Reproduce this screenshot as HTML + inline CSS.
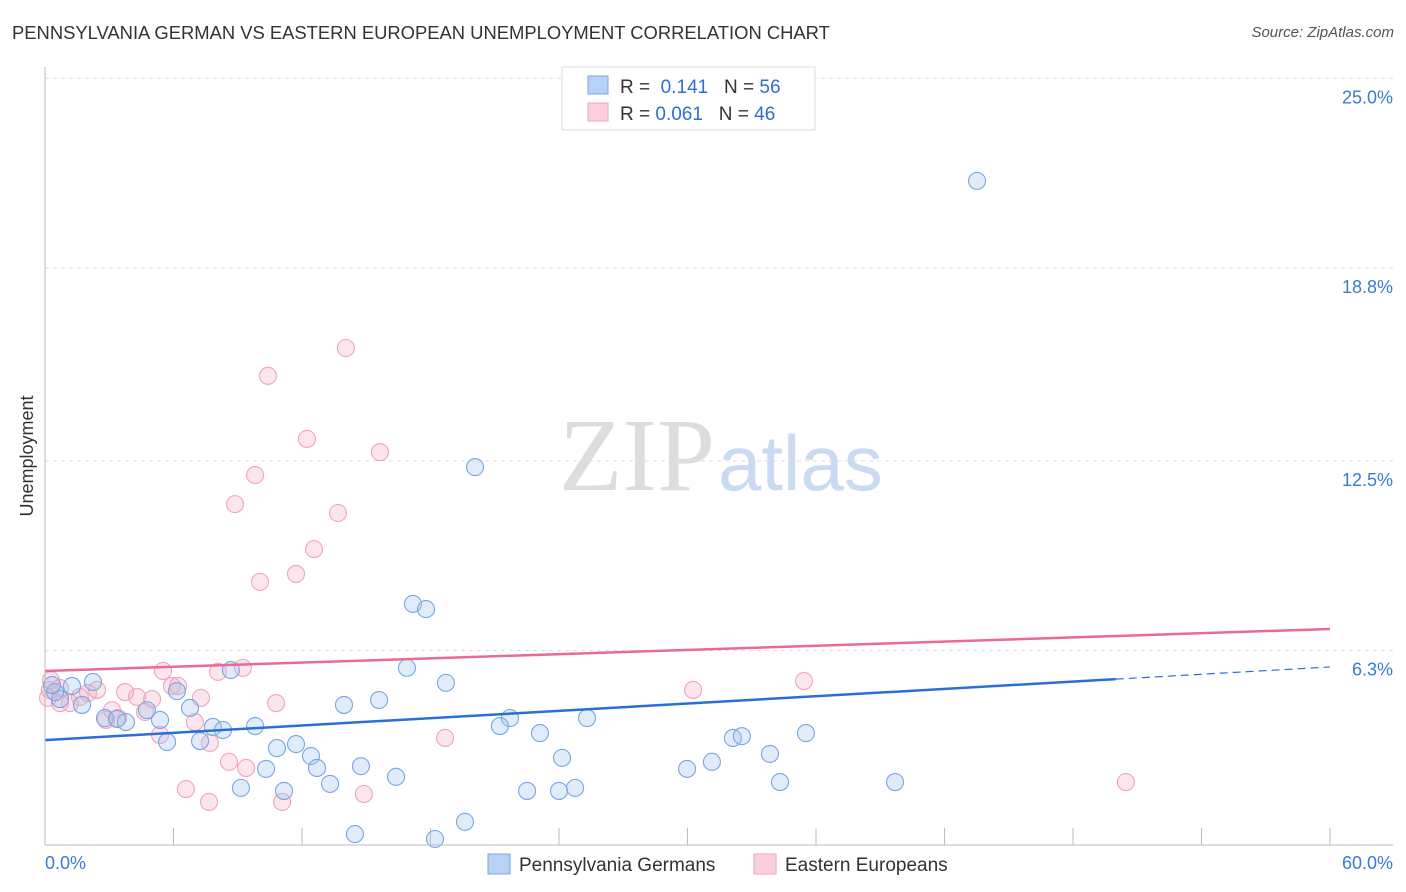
<!DOCTYPE html>
<html><head><meta charset="utf-8"><style>
body{margin:0;background:#fff;font-family:"Liberation Sans",sans-serif;}
#wrap{position:relative;width:1406px;height:892px;overflow:hidden;}
.title{position:absolute;left:12px;top:22px;font-size:18.4px;color:#333;}
.src{position:absolute;right:12px;top:24px;font-size:15px;color:#555;font-style:italic;}
</style></head><body>
<div id="wrap">
<div class="title">PENNSYLVANIA GERMAN VS EASTERN EUROPEAN UNEMPLOYMENT CORRELATION CHART</div>
<div class="src">Source: ZipAtlas.com</div>
<svg id="svg" width="1406" height="892" style="position:absolute;left:0;top:0">
<text x="715" y="490" text-anchor="end" font-family="Liberation Serif,serif" font-size="104" fill="#ddd">ZIP</text>
<text x="718" y="490" font-family="Liberation Sans,sans-serif" font-size="78" fill="#c9daf2">atlas</text>
<g id="grid"></g><g id="pts"></g><g id="lines"></g>
<line x1="45" y1="67" x2="45" y2="845" stroke="#bbb"/>
<line x1="45" y1="845" x2="1393" y2="845" stroke="#bbb"/>
<text x="45" y="869" font-size="18" fill="#3a7bd5">0.0%</text>
<text x="1393" y="869" font-size="18" fill="#3a7bd5" text-anchor="end">60.0%</text>
<text transform="translate(33,456) rotate(-90)" text-anchor="middle" font-size="18" fill="#333">Unemployment</text>
<g>
<rect x="562" y="67" width="253" height="63" fill="#fff" stroke="#ddd"/>
<rect x="588" y="76" width="20" height="18" fill="#b8d2f5" stroke="#7aa7e3"/>
<rect x="588" y="103" width="20" height="18" fill="#fbd0dd" stroke="#efa3bd"/>
<text x="620" y="93" font-size="19" fill="#333">R = <tspan fill="#2f6fd0">&#160;0.141</tspan>&#160;&#160;&#160;N = <tspan fill="#2f6fd0">56</tspan></text>
<text x="620" y="120" font-size="19" fill="#333">R = <tspan fill="#2f6fd0">0.061</tspan>&#160;&#160;&#160;N = <tspan fill="#2f6fd0">46</tspan></text>
</g>
<g>
<rect x="488" y="854" width="22" height="20" fill="#b8d2f5" stroke="#7aa7e3"/>
<text x="519" y="871" font-size="19" fill="#333">Pennsylvania Germans</text>
<rect x="754" y="854" width="22" height="20" fill="#fbd0dd" stroke="#efa3bd"/>
<text x="785" y="871" font-size="19" fill="#333">Eastern Europeans</text>
</g>
</svg>
</div>
<script>
const yTicks=[25.0,18.8,12.5,6.3];
const yTickLabels=["25.0%","18.8%","12.5%","6.3%"];
const xTicks=[0,6,12,18,24,30,36,42,48,54,60];
const blueX=[43.52,20.08,17.18,17.79,16.90,18.72,15.60,13.96,8.68,6.16,2.24,1.26,0.70,1.73,2.80,3.36,3.78,5.37,4.76,6.77,7.84,8.31,9.81,5.70,7.24,10.83,11.72,12.42,12.70,10.32,14.75,13.31,16.39,11.16,9.15,14.47,18.21,19.61,21.71,21.24,23.11,25.31,24.14,22.51,24.00,24.75,32.12,32.54,33.85,35.53,29.98,31.14,34.32,39.69,0.47,0.33];
const blueY=[21.68,12.33,7.86,7.69,5.77,5.28,4.72,4.56,5.70,5.01,5.31,5.18,4.75,4.56,4.13,4.10,4.00,4.07,4.39,4.46,3.84,3.74,3.87,3.35,3.38,3.15,3.28,2.89,2.50,2.47,2.56,1.98,2.21,1.75,1.85,0.34,0.18,0.74,4.13,3.87,3.64,4.13,2.83,1.75,1.75,1.85,3.48,3.54,2.96,3.64,2.47,2.70,2.04,2.04,4.98,5.21];
const pinkX=[14.05,10.41,12.23,15.64,9.81,8.87,13.68,12.56,10.04,11.72,0.28,5.51,9.24,8.08,2.43,2.01,0.70,1.17,3.74,4.30,5.00,5.93,6.21,7.28,10.79,3.13,2.85,3.41,4.67,7.00,5.37,7.70,18.68,8.59,9.39,6.58,7.66,11.07,14.89,30.26,35.44,50.47,0.14,0.70,0.23,1.63];
const pinkY=[16.22,15.31,13.25,12.82,12.07,11.12,10.83,9.65,8.58,8.84,5.37,5.67,5.77,5.64,5.05,4.95,5.11,4.62,4.98,4.82,4.75,5.18,5.18,4.79,4.62,4.39,4.07,4.13,4.33,4.00,3.58,3.32,3.48,2.70,2.50,1.81,1.39,1.39,1.65,5.05,5.34,2.04,4.79,4.62,5.05,4.82];
const blueTrend=[3.41,5.80];
const pinkTrend=[5.67,7.04];
const NS="http://www.w3.org/2000/svg";
const sx=v=>45+v*(1285/60), sy=v=>844.5-v*30.61;
function mk(t,a,p){const e=document.createElementNS(NS,t);for(const k in a)e.setAttribute(k,a[k]);p.appendChild(e);return e;}
const grid=document.getElementById('grid');
yTicks.forEach((t,i)=>{
 const l=mk('line',{x1:45,x2:1393,y1:sy(t)-1,y2:sy(t)-1,stroke:'#ddd','stroke-dasharray':'4,4'},grid);
 
 
 const tx=mk('text',{x:1393,y:sy(t)+24,'text-anchor':'end','font-size':18,fill:'#3a7bd5'},grid);
 tx.textContent=yTickLabels[i];
 
 
});
xTicks.forEach(t=>{
 const l=mk('line',{x1:sx(t),x2:sx(t),y1:828,y2:845,stroke:'#bbb'},grid);
 
 
});
const pts=document.getElementById('pts');
function draw(xs,ys,fill,stroke,name){xs.forEach((x,i)=>{
 const c=mk('circle',{cx:sx(x),cy:sy(ys[i]),r:8.5,fill:fill,stroke:stroke,'stroke-width':1.1},pts);
 
 
});}
draw(pinkX,pinkY,'rgba(246,170,196,0.3)','#f0a4c0','eastern-european-point');
draw(blueX,blueY,'rgba(160,196,240,0.32)','#78a6e2','pennsylvania-german-point');
const lines=document.getElementById('lines');
const b1=blueTrend[0]+(blueTrend[1]-blueTrend[0])*(50/60);
let l=mk('line',{x1:sx(0),y1:sy(blueTrend[0]),x2:sx(50),y2:sy(b1),stroke:'#2a6fd6','stroke-width':2.5},lines);


l=mk('line',{x1:sx(50),y1:sy(b1),x2:sx(60),y2:sy(blueTrend[1]),stroke:'#2a6fd6','stroke-width':1.2,'stroke-dasharray':'8,5'},lines);


l=mk('line',{x1:sx(0),y1:sy(pinkTrend[0]),x2:sx(60),y2:sy(pinkTrend[1]),stroke:'#e86a97','stroke-width':2.5},lines);


</script>
</body></html>
